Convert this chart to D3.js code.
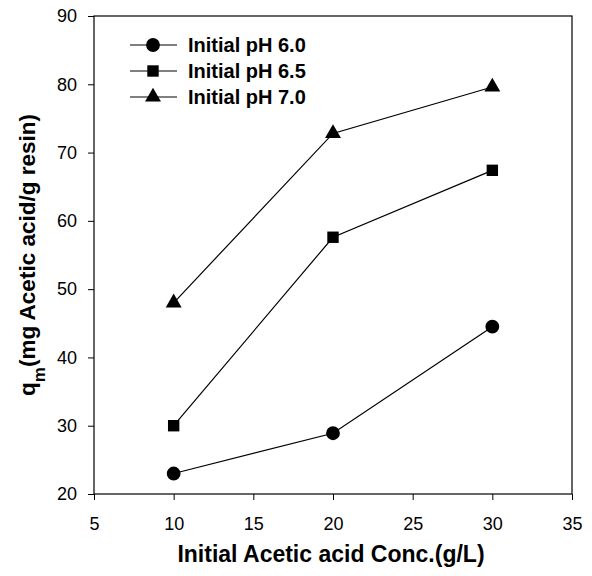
<!DOCTYPE html>
<html><head><meta charset="utf-8">
<script src="https://cdn.jsdelivr.net/npm/d3@7"></script>
<style>body{margin:0;background:#fff}</style>
</head><body>
<svg id="c" width="592" height="576"></svg>
<script>
const xValues = [10, 20, 30];
const seriesNames = ["Initial pH 6.0", "Initial pH 6.5", "Initial pH 7.0"];
const pH60 = [23.0, 28.9, 44.5];
const pH65 = [30.0, 57.6, 67.4];
const pH70 = [48.0, 72.8, 79.6];
const markerTypes = ["circle", "square", "triangle"];
const xTicks = [5, 10, 15, 20, 25, 30, 35];
const yTicks = [20, 30, 40, 50, 60, 70, 80, 90];

const series = [pH60, pH65, pH70];
const svg = d3.select("#c");
const L = 94, R = 572, T = 16, B = 494;
const x = d3.scaleLinear().domain([5, 35]).range([L, R]);
const y = d3.scaleLinear().domain([20, 90]).range([B, T]);
const font = "'Liberation Sans', Arial, sans-serif";

const sym = {circle: d3.symbolCircle, square: d3.symbolSquare, triangle: d3.symbolTriangle};
const size = {circle: 150, square: 130, triangle: 110};
function marker(g, type) {
  g.append("path").attr("d", d3.symbol().type(sym[type]).size(size[type])())
   .attr("fill", "#000");
}

// frame
svg.append("rect").attr("x", L).attr("y", T).attr("width", R - L).attr("height", B - T)
  .attr("fill", "none").attr("stroke", "#000").attr("stroke-width", 1.2);

const xAxis = svg.append("g").attr("transform", `translate(0,${B})`)
  .call(d3.axisBottom(x).tickValues(xTicks).tickSize(6).tickPadding(17).tickFormat(d3.format("d")));
const yAxis = svg.append("g").attr("transform", `translate(${L},0)`)
  .call(d3.axisLeft(y).tickValues(yTicks).tickSize(6).tickPadding(11).tickFormat(d3.format("d")));
[xAxis, yAxis].forEach(a => {
  a.select(".domain").remove();
  a.selectAll("line").attr("stroke", "#000").attr("stroke-width", 1);
  a.selectAll("text").attr("font-family", font).attr("font-size", 18).attr("fill", "#000");
});

const line = d3.line().x((d, i) => x(xValues[i])).y(d => y(d));
series.forEach((s, k) => {
  svg.append("path").datum(s).attr("d", line).attr("fill", "none")
    .attr("stroke", "#000").attr("stroke-width", 1.2);
  s.forEach((v, i) => {
    const g = svg.append("g").attr("transform", `translate(${x(xValues[i])},${y(v)})`);
    marker(g, markerTypes[k]);
  });
});

// legend
seriesNames.forEach((n, k) => {
  const yy = 45 + k * 26;
  svg.append("line").attr("x1", 130).attr("x2", 177).attr("y1", yy).attr("y2", yy)
    .attr("stroke", "#000").attr("stroke-width", 1.2);
  const g = svg.append("g").attr("transform", `translate(153,${yy})`);
  marker(g, markerTypes[k]);
  svg.append("text").attr("x", 188).attr("y", yy + 7).text(n)
    .attr("font-family", font).attr("font-weight", "bold").attr("font-size", 20);
});

// axis titles
svg.append("text").attr("x", 331).attr("y", 562).attr("text-anchor", "middle")
  .attr("font-family", font).attr("font-weight", "bold").attr("font-size", 23)
  .text("Initial Acetic acid Conc.(g/L)");
const yt = svg.append("text").attr("transform", `translate(35,255) rotate(-90)`)
  .attr("text-anchor", "middle").attr("font-family", font).attr("font-weight", "bold").attr("font-size", 22.5);
yt.append("tspan").text("q");
yt.append("tspan").text("m").attr("baseline-shift", "sub").attr("font-size", 17);
yt.append("tspan").text("(mg Acetic acid/g resin)");
</script>
</body></html>
